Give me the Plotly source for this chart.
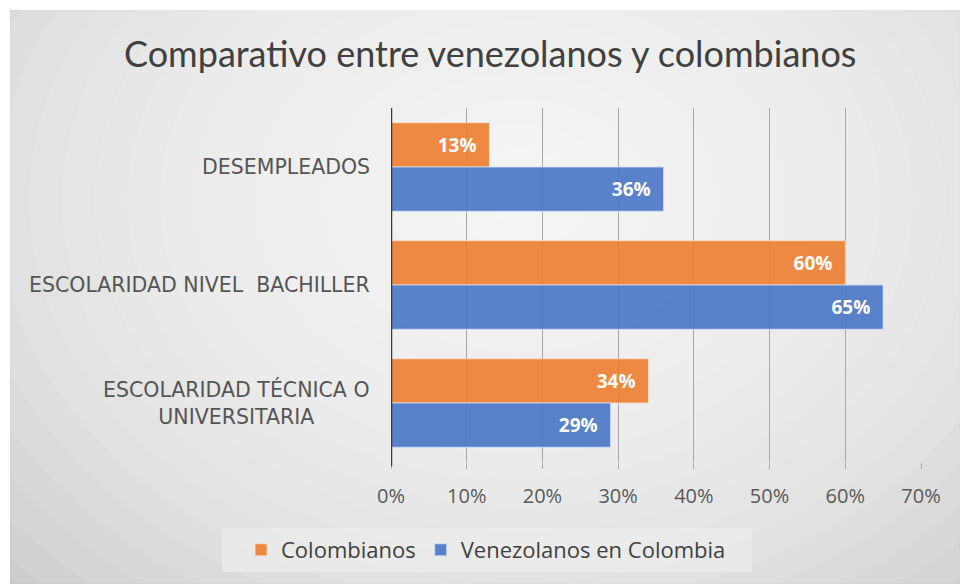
import plotly.graph_objects as go

categories = ["DESEMPLEADOS", "ESCOLARIDAD NIVEL  BACHILLER", "ESCOLARIDAD TÉCNICA O<br>UNIVERSITARIA"]
colombianos = [0.13, 0.60, 0.34]
venezolanos = [0.36, 0.65, 0.29]
series_names = ["Colombianos", "Venezolanos en Colombia"]
tick_vals = [0, 0.1, 0.2, 0.3, 0.4, 0.5, 0.6, 0.7]
tick_text = ["0%", "10%", "20%", "30%", "40%", "50%", "60%", "70%"]

W, H = 960, 584
L, R, T, B = 391, 39, 108, 122
pw, ph = W - L - R, H - T - B

def px(x):
    return (x - L) / pw

def py(y):
    return (H - B - y) / ph

label_font = dict(color="white", size=19, family="Open Sans", weight="bold")

fig = go.Figure()
fig.add_trace(go.Bar(
    y=categories, x=colombianos, name=series_names[0], orientation="h",
    marker=dict(color="rgba(237,125,49,0.9)", line=dict(color="rgba(255,230,210,0.7)", width=1)),
    text=[f"{v*100:.0f}%&nbsp;&nbsp;" for v in colombianos], textposition="inside", insidetextanchor="end",
    textfont=label_font,
))
fig.add_trace(go.Bar(
    y=categories, x=venezolanos, name=series_names[1], orientation="h",
    marker=dict(color="rgba(68,114,196,0.88)", line=dict(color="rgba(210,225,250,0.8)", width=1)),
    text=[f"{v*100:.0f}%&nbsp;&nbsp;" for v in venezolanos], textposition="inside", insidetextanchor="end",
    textfont=label_font,
))

shapes = []
shapes.append(dict(type="rect", xref="paper", yref="paper", x0=px(10), x1=px(960), y0=py(584), y1=py(10),
                   fillcolor="#c9c9c9", line=dict(color="#bdbdbd", width=1), layer="below"))
cx, cy = 520, 200
n = 22
for i in range(n):
    f = 1 - i / n
    rx, ry = 720 * f, 560 * f
    shapes.append(dict(type="circle", xref="paper", yref="paper",
                       x0=px(cx - rx), x1=px(cx + rx), y0=py(cy + ry), y1=py(cy - ry),
                       fillcolor="rgba(255,255,255,0.09)", line=dict(width=0), layer="below"))
shapes.append(dict(type="rect", xref="paper", yref="paper", x0=px(0), x1=px(960), y0=py(10), y1=py(0),
                   fillcolor="white", line=dict(width=0), layer="below"))
shapes.append(dict(type="rect", xref="paper", yref="paper", x0=px(0), x1=px(10), y0=py(584), y1=py(0),
                   fillcolor="white", line=dict(width=0), layer="below"))
shapes.append(dict(type="rect", xref="paper", yref="paper", x0=px(222), x1=px(752), y0=py(572), y1=py(528),
                   fillcolor="rgba(240,240,240,0.55)", line=dict(width=0), layer="below"))
shapes.append(dict(type="line", xref="x", yref="paper", x0=0, x1=0, y0=py(466), y1=1.0,
                   line=dict(color="#3a3a3a", width=2.5)))
fig.update_layout(shapes=shapes)

annotations = []
for c in categories:
    annotations.append(dict(x=0, xref="x", xshift=-19, y=c, yref="y", text=c, showarrow=False,
                            xanchor="right", yanchor="middle", align="center",
                            font=dict(family="DejaVu Sans", size=20.5, color="#555555")))
annotations.append(dict(x=px(490), y=py(53), xref="paper", yref="paper",
                        text="Comparativo entre venezolanos y colombianos", showarrow=False,
                        xanchor="center", yanchor="middle",
                        font=dict(family="Lato", size=36, color="#404040")))
fig.update_layout(annotations=annotations)

fig.update_layout(
    width=W, height=H,
    margin=dict(l=L, r=R, t=T, b=B, pad=0),
    paper_bgcolor="white", plot_bgcolor="rgba(0,0,0,0)",
    barmode="group", bargap=0.25, bargroupgap=0,
    showlegend=True,
    legend=dict(orientation="h", x=px(486), y=py(550), xanchor="center", yanchor="middle",
                font=dict(family="Open Sans", size=22, color="#404040"),
                bgcolor="rgba(0,0,0,0)", itemwidth=30, traceorder="normal"),
    xaxis=dict(range=[0, 0.7], tickvals=tick_vals, ticktext=tick_text,
               showgrid=True, gridcolor="#a8a8a8", gridwidth=1, zeroline=False,
               ticks="outside", ticklen=6, tickcolor="#a8a8a8", tickwidth=1,
               ticklabelstandoff=10,
               tickfont=dict(family="Open Sans", size=20, color="#595959"),
               showline=False, fixedrange=True),
    yaxis=dict(autorange="reversed", showticklabels=False, showgrid=False, zeroline=False,
               showline=False, ticks=""),
)

fig.write_html("out.html")
